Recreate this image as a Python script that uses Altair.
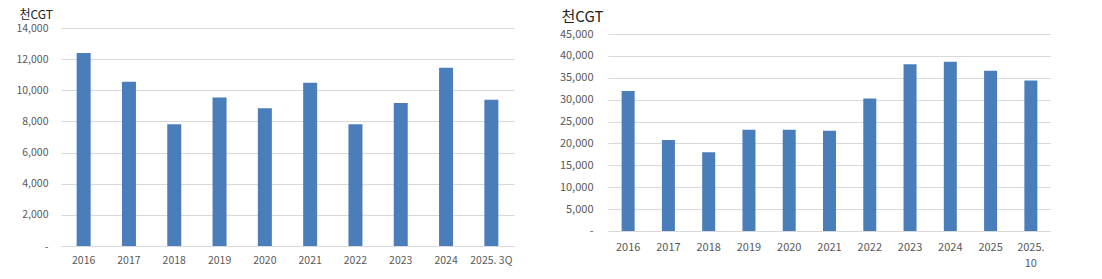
import altair as alt
import pandas as pd

left_years = ["2016", "2017", "2018", "2019", "2020", "2021", "2022", "2023", "2024", "2025. 3Q"]
left_values = [12400, 10550, 7820, 9530, 8840, 10490, 7820, 9180, 11450, 9400]

right_years = ["2016", "2017", "2018", "2019", "2020", "2021", "2022", "2023", "2024", "2025", "2025. 10"]
right_values = [32000, 20800, 18000, 23100, 23100, 22900, 30250, 38100, 38650, 36600, 34400]

unit_label = "천CGT"
left_ticks = [0, 2000, 4000, 6000, 8000, 10000, 12000, 14000]
right_ticks = [0, 5000, 10000, 15000, 20000, 25000, 30000, 35000, 40000, 45000]

BAR = "#4a7ebb"
GRID = "#d9d9d9"
TXT = "#595959"
FONT = "Noto Sans CJK KR"

left_df = pd.DataFrame({"year": left_years, "value": left_values})
right_df = pd.DataFrame({"year": right_years, "value": right_values})

zero_dash = "datum.value == 0 ? '-' : datum.label"

RIGHT_H = 203
RIGHT_TOP = 45000 * RIGHT_H / 197

left = alt.Chart(left_df).mark_bar(size=14, color=BAR).encode(
    x=alt.X("year:N", sort=left_years,
            scale=alt.Scale(paddingInner=0.0, paddingOuter=0.0),
            axis=alt.Axis(title=None, labelAngle=0, ticks=False, domainColor=GRID,
                          labelColor=TXT, labelFont=FONT, labelFontSize=10.5,
                          labelPadding=9)),
    y=alt.Y("value:Q", scale=alt.Scale(domain=[0, 14000], nice=False),
            axis=alt.Axis(values=left_ticks, format=",d", labelExpr=zero_dash,
                          domain=False, ticks=False, gridColor=GRID,
                          labelColor=TXT, labelFont=FONT, labelFontSize=10.5,
                          labelPadding=13, title=unit_label, titleAngle=0,
                          titleAlign="left", titleBaseline="middle",
                          titleX=-42, titleY=-14, titleFont=FONT,
                          titleFontSize=12, titleFontWeight="normal",
                          titleColor="#222222")),
).properties(width=453, height=218)

right = alt.Chart(right_df).mark_bar(size=13, color=BAR).encode(
    x=alt.X("year:N", sort=right_years,
            scale=alt.Scale(paddingInner=0.0, paddingOuter=0.0),
            axis=alt.Axis(title=None, labelAngle=0, ticks=False, domainColor=GRID,
                          labelColor=TXT, labelFont=FONT, labelFontSize=11,
                          labelPadding=10, labelLineHeight=16,
                          labelExpr="datum.label == '2025. 10' ? ['2025.', '10'] : datum.label")),
    y=alt.Y("value:Q", scale=alt.Scale(domain=[0, RIGHT_TOP], nice=False),
            axis=alt.Axis(values=right_ticks, format=",d", labelExpr=zero_dash,
                          domain=False, ticks=False, gridColor=GRID,
                          labelColor=TXT, labelFont=FONT, labelFontSize=11,
                          labelPadding=15, title=unit_label, titleAngle=0,
                          titleAlign="left", titleBaseline="middle",
                          titleX=-47, titleY=-12, titleFont=FONT,
                          titleFontSize=15, titleFontWeight="normal",
                          titleColor="#222222")),
).properties(width=443, height=RIGHT_H)

chart = alt.hconcat(left, right, spacing=45).properties(
    padding={"left": 15, "top": 8, "right": 0, "bottom": 0},
    background="white",
).configure_view(stroke=None)

chart.save("out.html", embed_options={"renderer": "svg", "actions": False})
